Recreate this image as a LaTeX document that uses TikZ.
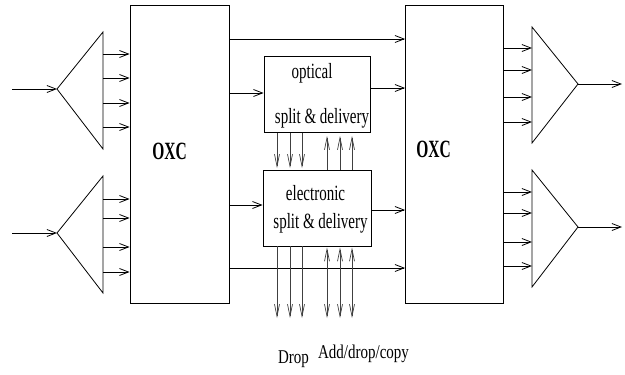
\documentclass[tikz,border=0pt]{standalone}
\usepackage{fontspec}
\setmainfont{Liberation Serif}
\usetikzlibrary{arrows.meta}
\newcommand{\vtxt}[2][1.45]{\scalebox{1}[#1]{#2}}
\begin{document}
\begin{tikzpicture}[x=1pt,y=-1pt,
  box/.style={draw,line width=0.9pt,rectangle,inner sep=0pt},
  harr/.style={line width=0.9pt,-{Straight Barb[length=9pt,width=7pt,line width=0.8pt]}},
  varr/.style={line width=0.7pt,draw=black!75,-{Straight Barb[length=12pt,width=5pt,line width=0.7pt]}},
  varrb/.style={line width=0.7pt,draw=black!75,{Straight Barb[length=12pt,width=5pt,line width=0.7pt]}-{Straight Barb[length=12pt,width=5pt,line width=0.7pt]}},
  tri/.style={line width=0.8pt},
  lbl/.style={font=\fontsize{15}{18}\selectfont,inner sep=0pt,anchor=base},
  big/.style={font=\fontsize{15.5}{18}\selectfont\bfseries,inner sep=0pt,anchor=base}]
\useasboundingbox (0,0) rectangle (625,375);

% boxes
\node[box,minimum width=99pt,minimum height=298pt] (oxcL) at (179.5,154) {};
\node[box,minimum width=98pt,minimum height=298pt] (oxcR) at (454.5,154) {};
\node[box,minimum width=106pt,minimum height=76pt] (opt) at (317,94.5) {};
\node[box,minimum width=108pt,minimum height=76pt] (ele) at (317,208) {};

\node[big] (tL) at (169.5,159) {\vtxt[1.6]{OXC}};
\node[big] (tR) at (433.5,157) {\vtxt[1.6]{OXC}};
\node[lbl] (t1) at (312,78.5) {\vtxt{optical}};
\node[lbl] (t2) at (322,123.5) {\vtxt{split \& delivery}};
\node[lbl] (t3) at (315.5,200) {\vtxt{electronic}};
\node[lbl] (t4) at (320.5,228.5) {\vtxt{split \& delivery}};
\node[lbl] (drop) at (293.5,363) {\vtxt[1.3]{Drop}};
\node[lbl] (adc) at (363.5,358) {\vtxt[1.3]{Add/drop/copy}};

% triangles
\coordinate (aL1) at (57,89);
\coordinate (aL2) at (57,233);
\coordinate (aR1) at (578,84);
\coordinate (aR2) at (578,227);
\draw[tri] (103,32) -- (aL1) -- (103,149) -- cycle;
\draw[tri] (103,176) -- (aL2) -- (103,293) -- cycle;
\draw[tri] (532,27) -- (aR1) -- (532,143) -- cycle;
\draw[tri] (532,170) -- (aR2) -- (532,287) -- cycle;

\coordinate (inL1) at (12,89);
\coordinate (inL2) at (12,233);
\coordinate (outR1) at (622,84);
\coordinate (outR2) at (622,227);
\draw[harr] (inL1) -- (aL1);
\draw[harr] (inL2) -- (aL2);
\draw[harr] (aR1) -- (outR1);
\draw[harr] (aR2) -- (outR2);

\foreach \y in {54,78,103,127,199,218,247,272}
  \draw[harr] (103,\y) -- (oxcL.west |- 0,\y);
\foreach \y in {48,70,97,122,192,213,242,266}
  \draw[harr] (oxcR.east |- 0,\y) -- (532,\y);

% connections between OXCs
\draw[harr] (oxcL.east |- 0,39) -- (oxcR.west |- 0,39);
\draw[harr] (oxcL.east |- 0,268) -- (oxcR.west |- 0,268);
\draw[harr] (oxcL.east |- 0,93) -- (opt.west |- 0,93);
\draw[harr] (opt.east |- 0,88) -- (oxcR.west |- 0,88);
\draw[harr] (oxcL.east |- 0,205) -- (ele.west |- 0,205);
\draw[harr] (ele.east |- 0,210) -- (oxcR.west |- 0,210);

% vertical arrows
\foreach \x in {277,290,302} {
  \draw[varr] (opt.south -| \x,0) -- (\x,168);
  \draw[varr] (ele.south -| \x,0) -- (\x,318);
}
\foreach \x in {327,340,352} {
  \draw[varr] (ele.north -| \x,0) -- (\x,136);
  \draw[varrb] (\x,247.5) -- (\x,318);
}
\end{tikzpicture}
\end{document}
